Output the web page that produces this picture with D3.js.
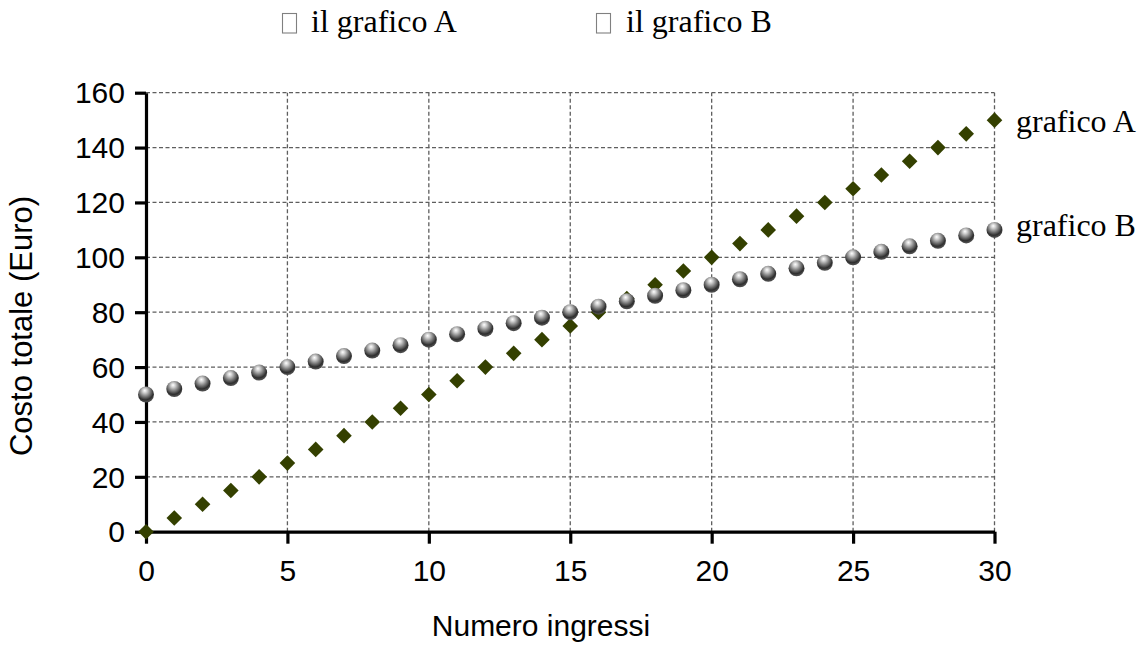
<!DOCTYPE html>
<html>
<head>
<meta charset="utf-8">
<script src="https://cdn.jsdelivr.net/npm/d3@7"></script>
<style>
  html, body { margin: 0; padding: 0; background: #fff; }
  svg { display: block; }
</style>
</head>
<body>
<svg id="chart" width="1139" height="646"></svg>
<script>
// ---- data ----
const ingressi = d3.range(0, 31); // 0..30
const costoA = [0,5,10,15,20,25,30,35,40,45,50,55,60,65,70,75,80,85,90,95,100,105,110,115,120,125,130,135,140,145,150];
const costoB = [50,52,54,56,58,60,62,64,66,68,70,72,74,76,78,80,82,84,86,88,90,92,94,96,98,100,102,104,106,108,110];
const xTicks = [0,5,10,15,20,25,30];
const yTicks = [0,20,40,60,80,100,120,140,160];
const seriesNames = ["grafico A", "grafico B"];
const legendLabels = ["il grafico A", "il grafico B"];
const xTitle = "Numero ingressi";
const yTitle = "Costo totale (Euro)";

(function () {
const svg = d3.select("#chart");
const pLeft = 146, pRight = 994.5, pTop = 92.7, pBottom = 531.7;

const x = d3.scaleLinear().domain([0, 30]).range([pLeft, pRight]);
const y = d3.scaleLinear().domain([0, 160]).range([pBottom, pTop]);

// gradient for spheres
const defs = svg.append("defs");
const g = defs.append("radialGradient").attr("id", "sphere")
  .attr("cx", "45%").attr("cy", "32%").attr("r", "62%").attr("fx", "42%").attr("fy", "25%");
[[0, "#ffffff"], [0.22, "#d0d0d0"], [0.55, "#7a7a7a"], [0.85, "#2e2e2e"], [1, "#4a4a4a"]]
  .forEach(([o, c]) => g.append("stop").attr("offset", o).attr("stop-color", c));

// grid
const grid = svg.append("g").attr("stroke", "#5e5e5e").attr("stroke-width", 1.3)
  .attr("stroke-dasharray", "4,2.5").attr("fill", "none");
xTicks.filter(d => d > 0).forEach(d => {
  grid.append("line").attr("x1", x(d)).attr("x2", x(d)).attr("y1", y(0)).attr("y2", y(160));
});
yTicks.filter(d => d > 0).forEach(d => {
  grid.append("line").attr("x1", x(0)).attr("x2", x(30)).attr("y1", y(d)).attr("y2", y(d));
});

// axes
const fontSans = "'Liberation Sans', Arial, sans-serif";
const fontSerif = "'Liberation Serif', 'Times New Roman', serif";

const yAxis = svg.append("g").attr("transform", `translate(${pLeft},0)`)
  .call(d3.axisLeft(y).tickValues(yTicks).tickSize(11).tickSizeOuter(0).tickPadding(10));
const xAxis = svg.append("g").attr("transform", `translate(0,${pBottom})`)
  .call(d3.axisBottom(x).tickValues(xTicks).tickSize(12).tickSizeOuter(0).tickPadding(16));
[xAxis, yAxis].forEach(a => {
  a.selectAll("path, line").attr("stroke", "#000").attr("stroke-width", 3.2);
  a.selectAll("text").attr("font-family", fontSans).attr("font-size", 30).attr("fill", "#000");
});
yAxis.selectAll("text").attr("dy", "0.34em");

// series A: diamonds
const dsz = 7.8;
svg.append("g").selectAll("path").data(ingressi).join("path")
  .attr("d", `M0,${-dsz}L${dsz},0L0,${dsz}L${-dsz},0Z`)
  .attr("transform", (d, i) => `translate(${x(d)},${y(costoA[i])})`)
  .attr("fill", "#344000");

// series B: spheres
svg.append("g").selectAll("circle").data(ingressi).join("circle")
  .attr("cx", d => x(d)).attr("cy", (d, i) => y(costoB[i])).attr("r", 8)
  .attr("fill", "url(#sphere)");

// right end labels
svg.append("text").attr("x", 1016).attr("y", y(costoA[30]) + 11.5)
  .attr("font-family", fontSerif).attr("font-size", 32).text(seriesNames[0]);
svg.append("text").attr("x", 1016).attr("y", y(costoB[30]) + 6)
  .attr("font-family", fontSerif).attr("font-size", 32).text(seriesNames[1]);

// top legend (missing-glyph boxes + text)
const legX = [[282.5, 311], [596.5, 626]];
legendLabels.forEach((t, i) => {
  svg.append("rect").attr("x", legX[i][0]).attr("y", 13.5).attr("width", 14).attr("height", 19.5)
    .attr("fill", "none").attr("stroke", "#808080").attr("stroke-width", 1.1);
  svg.append("text").attr("x", legX[i][1]).attr("y", 32)
    .attr("font-family", fontSerif).attr("font-size", 32).text(t);
});

// axis titles
svg.append("text").attr("x", 541).attr("y", 636).attr("text-anchor", "middle")
  .attr("font-family", fontSans).attr("font-size", 30).text(xTitle);
svg.append("text").attr("transform", "translate(32,326) rotate(-90)").attr("text-anchor", "middle")
  .attr("font-family", fontSans).attr("font-size", 31).text(yTitle);
})();
</script>
</body>
</html>
